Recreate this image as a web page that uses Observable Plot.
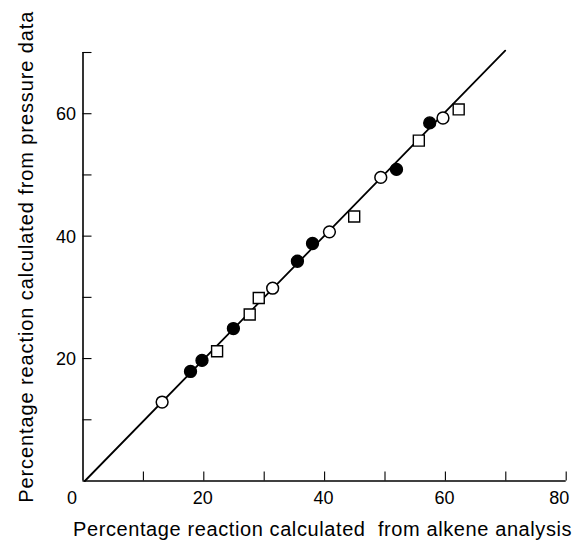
<!DOCTYPE html>
<html>
<head>
<meta charset="utf-8">
<script src="https://cdn.jsdelivr.net/npm/d3@7"></script>
<script src="https://cdn.jsdelivr.net/npm/@observablehq/plot@0.6"></script>
<style>
  html, body { margin: 0; padding: 0; background: #fff; }
  #chart svg { display: block; }
</style>
</head>
<body>
<div id="chart"></div>
<script>
// ---- data ----
const openCircleX = [13.1, 31.4, 40.8, 49.3, 59.6];
const openCircleY = [12.9, 31.5, 40.7, 49.6, 59.3];

const filledCircleX = [17.8, 19.7, 24.9, 35.5, 38.0, 51.9, 57.4];
const filledCircleY = [17.9, 19.7, 24.9, 35.9, 38.8, 50.9, 58.5];

const openSquareX = [22.2, 27.6, 29.1, 44.9, 55.6, 62.2];
const openSquareY = [21.2, 27.2, 29.9, 43.2, 55.6, 60.7];

const fitLineX = [0.3, 69.9];
const fitLineY = [0, 70.3];

const xTicks = [10, 20, 30, 40, 50, 60, 70, 80];
const yTicks = [10, 20, 30, 40, 50, 60, 70];
const xTickLabels = [20, 40, 60];
const yTickLabels = [20, 40, 60];

const xTitle = "Percentage reaction calculated  from alkene analysis";
const yTitle = "Percentage reaction calculated from pressure data";

const toPoints = (xs, ys) => xs.map((x, i) => ({x, y: ys[i]}));
const openCircles = toPoints(openCircleX, openCircleY);
const filledCircles = toPoints(filledCircleX, filledCircleY);
const openSquares = toPoints(openSquareX, openSquareY);
const fitLine = toPoints(fitLineX, fitLineY);

const plot = Plot.plot({
  width: 573,
  height: 544,
  marginLeft: 82.5,
  marginRight: 7.3,
  marginTop: 52,
  marginBottom: 63.5,
  style: {fontFamily: "'Liberation Sans', Arial, sans-serif", background: "#fff", color: "#000", overflow: "visible"},
  x: {domain: [0, 80]},
  y: {domain: [0, 70]},
  marks: [
    // inward ticks
    Plot.axisX(xTicks, {tickSize: -9, tickFormat: () => "", label: null, stroke: "#000", strokeWidth: 1.1}),
    Plot.axisY(yTicks, {tickSize: -9, tickFormat: () => "", label: null, stroke: "#000", strokeWidth: 1.1}),
    // axis lines
    Plot.ruleY([0], {x1: 0, x2: 80, stroke: "#000", strokeWidth: 1.6}),
    Plot.ruleX([0], {y1: 0, y2: 70, stroke: "#000", strokeWidth: 1.6}),
    // tick labels
    Plot.text(xTickLabels, {x: d => d, y: 0, dy: 17, dx: -1, text: d => String(d), fontSize: 18, fill: "#000"}),
    Plot.text([0], {x: d => d, y: 0, dy: 17, dx: -11, text: d => String(d), fontSize: 18, fill: "#000"}),
    Plot.text([80], {x: d => d, y: 0, dy: 17, dx: -7, text: d => String(d), fontSize: 18, fill: "#000"}),
    Plot.text(yTickLabels, {x: 0, y: d => d, dx: -7, dy: 1, textAnchor: "end", text: d => String(d), fontSize: 18, fill: "#000"}),
    // titles
    Plot.text([xTitle], {frameAnchor: "bottom", textAnchor: "middle", dy: 54.8, dx: -2, text: d => d, fontSize: 20, fill: "#000"}),
    Plot.text([yTitle], {frameAnchor: "left", textAnchor: "middle", rotate: -90, dx: -56, dy: -10, text: d => d, fontSize: 20, fill: "#000"}),
    // fit line
    Plot.line(fitLine, {x: "x", y: "y", stroke: "#000", strokeWidth: 1.8}),
    // markers
    Plot.dot(openSquares, {x: "x", y: "y", symbol: "square", r: 6.2, fill: "#fff", stroke: "#000", strokeWidth: 1.4}),
    Plot.dot(openCircles, {x: "x", y: "y", r: 5.9, fill: "#fff", stroke: "#000", strokeWidth: 1.5}),
    Plot.dot(filledCircles, {x: "x", y: "y", r: 6, fill: "#000", stroke: "#000", strokeWidth: 1.3})
  ]
});

d3.select(plot).selectAll("text")
  .filter(function() { return this.textContent === xTitle; })
  .attr("letter-spacing", "0.6px")
  .style("white-space", "pre");
d3.select(plot).selectAll("text")
  .filter(function() { return this.textContent === yTitle; })
  .attr("letter-spacing", "0.9px");

document.getElementById("chart").appendChild(plot);
</script>
</body>
</html>
